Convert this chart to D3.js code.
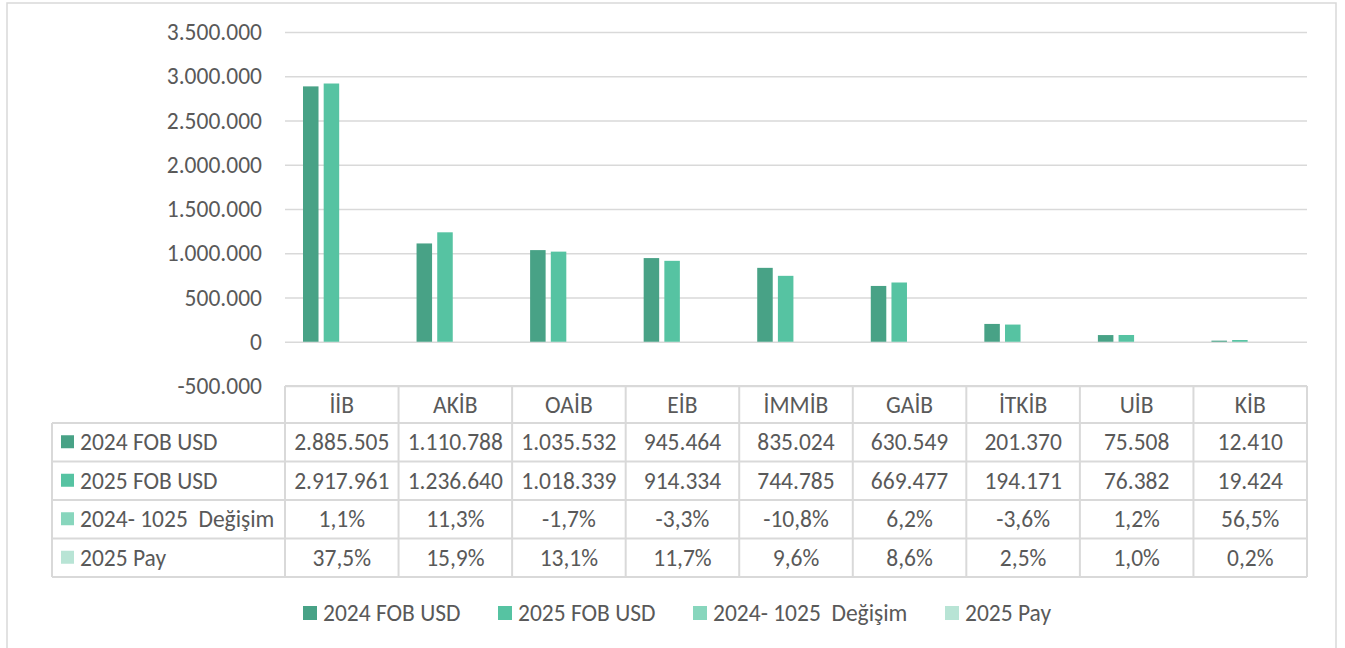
<!DOCTYPE html>
<html>
<head>
<meta charset="utf-8">
<script src="https://cdn.jsdelivr.net/npm/d3@7"></script>
<style>
  body { margin: 0; background: #fff; }
  svg text { font-family: Calibri, Carlito, Lato, sans-serif; fill: #595959; white-space: pre; }
</style>
</head>
<body>
<svg width="1345" height="648"></svg>
<script>
// categories (exporter associations)
const categories = ['İİB', 'AKİB', 'OAİB', 'EİB', 'İMMİB', 'GAİB', 'İTKİB', 'UİB', 'KİB']
const seriesNames = ['2024 FOB USD', '2025 FOB USD', '2024- 1025  Değişim', '2025 Pay']
const fob2024 = [2885505, 1110788, 1035532, 945464, 835024, 630549, 201370, 75508, 12410]
const fob2025 = [2917961, 1236640, 1018339, 914334, 744785, 669477, 194171, 76382, 19424]
const change = [0.011, 0.113, -0.017, -0.033, -0.108, 0.062, -0.036, 0.012, 0.565]
const share = [0.375, 0.159, 0.131, 0.117, 0.096, 0.086, 0.025, 0.010, 0.002]
const yTicks = [-500000, 0, 500000, 1000000, 1500000, 2000000, 2500000, 3000000, 3500000]
const colors = ['#48a286', '#56c3a2', '#88d6bd', '#b8e4d5']

const seriesValues = [fob2024, fob2025, change, share]

const svg = d3.select('svg')
const plot = {left: 285, right: 1307, top: 32, bottom: 386}
const table = {labelLeft: 52, headerTop: 386, headerH: 37, rowH: 38.5}
const fontSize = 23.5

// number formats with Turkish separators
const tr = d3.formatLocale({decimal: ',', thousands: '.', grouping: [3], currency: ['', ' TL'], minus: '-'})
const fmtInt = tr.format(',d')
const fmtPct = tr.format('.1%')

const x = d3.scaleBand().domain(categories).range([plot.left, plot.right])
const xInner = d3.scaleBand().domain(d3.range(4)).paddingInner(0.25).paddingOuter(0)
const y = d3.scaleLinear().domain([-500000, 3500000]).range([plot.bottom, plot.top])

makeChart()

function makeChart() {
  xInner.range([18, x.bandwidth() - 18])
  drawFrame()
  drawGrid()
  drawBars()
  drawTable()
  drawLegend()
}

function drawFrame() {
  svg.append('rect')
    .attr('x', 7).attr('y', 3)
    .attr('width', 1329).attr('height', 660)
    .attr('fill', 'none')
    .attr('stroke', '#d9d9d9')
    .attr('stroke-width', 1.5)
}

function drawGrid() {
  const axis = d3.axisLeft(y)
    .tickValues(yTicks)
    .tickSize(-(plot.right - plot.left))
    .tickPadding(23)
    .tickFormat(d => fmtInt(d))
  const g = svg.append('g')
    .attr('class', 'axis-y')
    .attr('transform', 'translate(' + plot.left + ',0)')
    .call(axis)
  g.select('.domain').remove()
  g.selectAll('.tick line')
    .attr('stroke', '#d9d9d9')
    .attr('stroke-width', 1.5)
  g.selectAll('.tick text')
    .attr('font-size', fontSize)
    .style('fill', '#595959')
}

function drawBars() {
  const groups = svg.append('g')
    .selectAll('g')
    .data(categories)
    .join('g')
      .attr('transform', d => 'translate(' + x(d) + ',0)')

  groups.selectAll('rect')
    .data((d, i) => seriesValues.map((vals, s) => ({s, v: vals[i]})))
    .join('rect')
      .attr('x', d => xInner(d.s))
      .attr('width', xInner.bandwidth())
      .attr('y', d => y(Math.max(0, d.v)))
      .attr('height', d => Math.abs(y(d.v) - y(0)))
      .attr('fill', d => colors[d.s])
}

function drawTable() {
  const g = svg.append('g').attr('class', 'table')
  const rowsTop = table.headerTop + table.headerH
  const tableBottom = rowsTop + table.rowH * seriesNames.length
  const lineColor = '#d9d9d9'

  // horizontal lines
  g.append('line')
    .attr('x1', plot.left).attr('x2', plot.right)
    .attr('y1', table.headerTop).attr('y2', table.headerTop)
    .attr('stroke', lineColor).attr('stroke-width', 2)
  d3.range(seriesNames.length + 1).forEach(r => {
    const yy = rowsTop + r * table.rowH
    g.append('line')
      .attr('x1', table.labelLeft).attr('x2', plot.right)
      .attr('y1', yy).attr('y2', yy)
      .attr('stroke', lineColor).attr('stroke-width', 2)
  })

  // vertical lines
  g.append('line')
    .attr('x1', table.labelLeft).attr('x2', table.labelLeft)
    .attr('y1', rowsTop).attr('y2', tableBottom)
    .attr('stroke', lineColor).attr('stroke-width', 2)
  categories.concat(['end']).forEach((c, i) => {
    const xx = i < categories.length ? x(c) : plot.right
    g.append('line')
      .attr('x1', xx).attr('x2', xx)
      .attr('y1', table.headerTop).attr('y2', tableBottom)
      .attr('stroke', lineColor).attr('stroke-width', 2)
  })

  // header
  g.selectAll('.head')
    .data(categories)
    .join('text')
      .attr('class', 'head')
      .attr('x', d => x(d) + x.bandwidth() / 2)
      .attr('y', table.headerTop + table.headerH / 2)
      .attr('dy', '0.35em')
      .attr('text-anchor', 'middle')
      .attr('font-size', fontSize)
      .text(d => d)

  // rows
  seriesNames.forEach((name, r) => {
    const cy = rowsTop + r * table.rowH + table.rowH / 2
    g.append('rect')
      .attr('x', 61).attr('y', cy - 7)
      .attr('width', 13).attr('height', 13)
      .attr('fill', colors[r])
    g.append('text')
      .attr('x', 80).attr('y', cy)
      .attr('dy', '0.35em')
      .attr('font-size', fontSize)
      .text(name)
    const fmt = r < 2 ? fmtInt : fmtPct
    g.selectAll('.cell' + r)
      .data(seriesValues[r])
      .join('text')
        .attr('class', 'cell' + r)
        .attr('x', (d, i) => x(categories[i]) + x.bandwidth() / 2)
        .attr('y', cy)
        .attr('dy', '0.35em')
        .attr('text-anchor', 'middle')
        .attr('font-size', fontSize)
        .text(d => fmt(d))
  })
}

function drawLegend() {
  const legendX = [303, 498, 693, 945]
  const g = svg.append('g').attr('class', 'legend')
  const items = g.selectAll('g')
    .data(seriesNames)
    .join('g')
      .attr('transform', (d, i) => 'translate(' + legendX[i] + ',613)')
  items.append('rect')
    .attr('x', 0).attr('y', -7)
    .attr('width', 14).attr('height', 14)
    .attr('fill', (d, i) => colors[i])
  items.append('text')
    .attr('x', 20).attr('y', 0)
    .attr('dy', '0.35em')
    .attr('font-size', fontSize)
    .text(d => d)
}
</script>
</body>
</html>
